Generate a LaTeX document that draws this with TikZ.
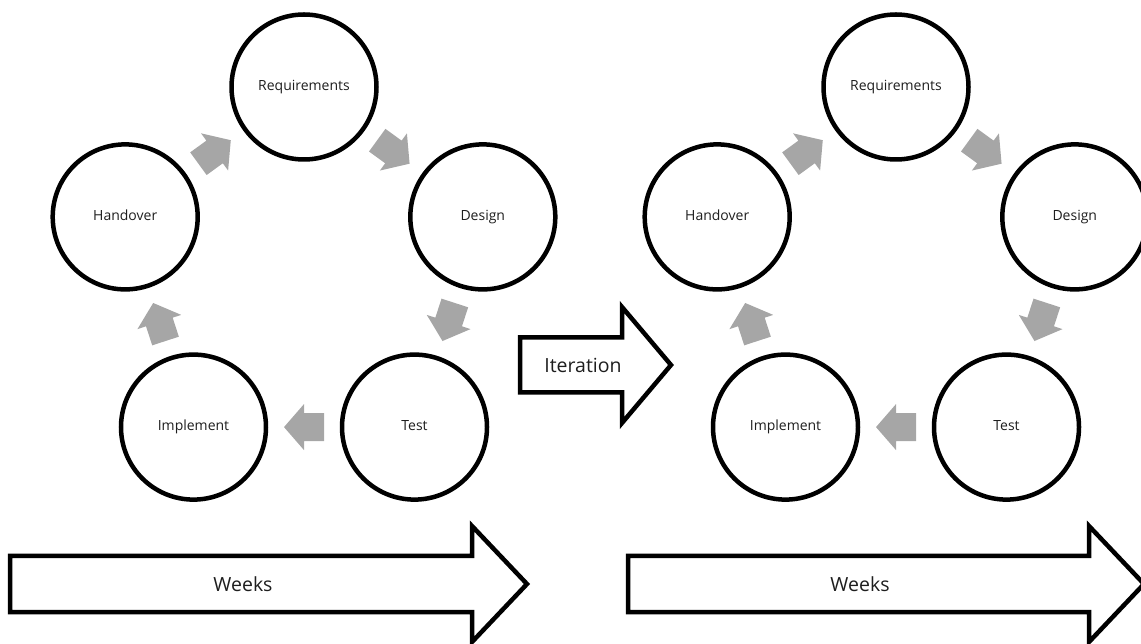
\documentclass[tikz,border=0pt]{standalone}
\usepackage{fontspec}
\setmainfont{Open Sans}
\usetikzlibrary{calc}
\definecolor{cyclegrey}{RGB}{166,166,166}
\definecolor{labeltext}{RGB}{30,30,30}

\begin{document}
\begin{tikzpicture}[x=1pt,y=1pt,
  stage/.style={circle,draw=black,line width=4.5pt,minimum size=145pt,inner sep=0pt,
    text=labeltext,font=\fontsize{14}{16}\selectfont,text height=10pt,text depth=3pt},
  blockarrow/.style={draw=black,line width=4.5pt,fill=white,line join=miter},
  biglabel/.style={text=labeltext,font=\fontsize{19.5}{22}\selectfont},
  % short grey block arrow, centred on its own origin, pointing along +x
  cyclearrow/.pic={
    \fill[cyclegrey] (20,0) -- (0,23) -- (0,14) -- (-20,14)
      -- (-20,-14) -- (0,-14) -- (0,-23) -- cycle;
  }
]
\useasboundingbox (0,0) rectangle (1141,643);
\clip (0,0) rectangle (1141,643);

% two identical five-stage cycles
\foreach \k/\cx in {1/304,2/896}{
  \coordinate (c\k) at (\cx,368);
  \node[stage] (r\k) at ($(c\k)+(90:188)$)   {Requirements};
  \node[stage] (d\k) at ($(c\k)+(18:188)$)   {Design};
  \node[stage] (t\k) at ($(c\k)+(-54:188)$)  {Test};
  \node[stage] (i\k) at ($(c\k)+(-126:188)$) {Implement};
  \node[stage] (h\k) at ($(c\k)+(162:188)$)  {Handover};
  \pic[rotate=36]   at ($(h\k)!0.5!(r\k)$) {cyclearrow};
  \pic[rotate=-36]  at ($(r\k)!0.5!(d\k)$) {cyclearrow};
  \pic[rotate=-108] at ($(d\k)!0.5!(t\k)$) {cyclearrow};
  \pic[rotate=180]  at ($(t\k)!0.5!(i\k)$) {cyclearrow};
  \pic[rotate=108]  at ($(i\k)!0.5!(h\k)$) {cyclearrow};
}

% iteration arrow between the cycles
\draw[blockarrow] (520,250.5) -- (622,250.5) -- (622,220) -- (671,278)
  -- (622,336) -- (622,305.5) -- (520,305.5) -- cycle;
\node[biglabel] (iter) at (583,278) {Iteration};

% time axes under each cycle
\draw[blockarrow] (10,31) -- (472,31) -- (472,1) -- (527,59)
  -- (472,117) -- (472,87) -- (10,87) -- cycle;
\node[biglabel] (weeks1) at (243,59) {Weeks};
\draw[blockarrow] (628,31) -- (1089,31) -- (1089,1) -- (1144,59)
  -- (1089,117) -- (1089,87) -- (628,87) -- cycle;
\node[biglabel] (weeks2) at (860,59) {Weeks};
\end{tikzpicture}
\end{document}
